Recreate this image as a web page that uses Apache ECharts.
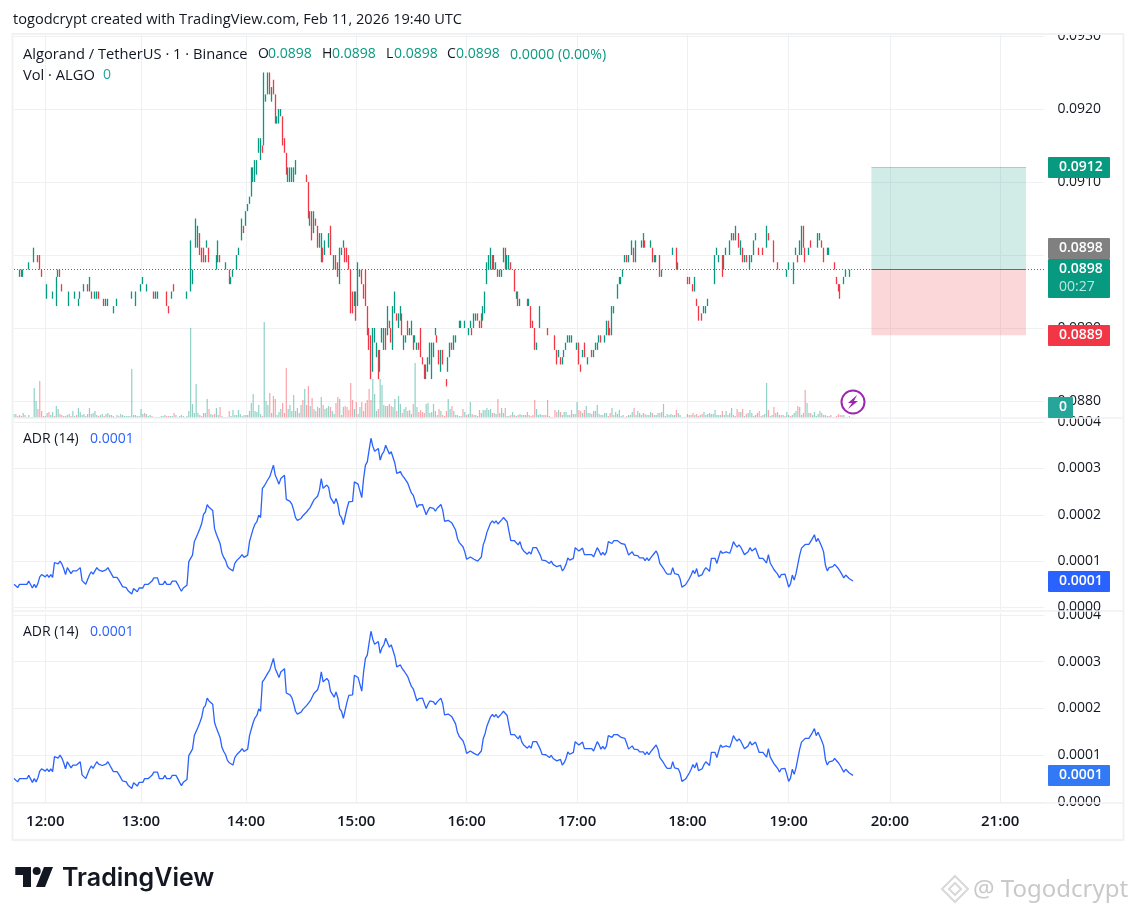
<!DOCTYPE html>
<html><head><meta charset="utf-8">
<style>html,body{margin:0;padding:0;background:#fff}#c{width:1137px;height:915px}</style>
<script src="https://cdn.jsdelivr.net/npm/echarts@6/dist/echarts.min.js"></script>
</head><body><div id="c"></div>
<script>
// prices in 1/10000 (898 = 0.0898)
const openTicks = [
899,898,898,897,898,897,897,898,898,898,
899,899,901,900,900,898,896,896,894,895,
895,894,894,893,897,898,896,895,895,894,
893,894,894,894,894,893,894,896,895,896,
896,895,895,895,894,894,895,894,894,894,
893,893,893,893,892,893,893,893,893,893,
893,894,894,894,894,894,893,895,895,895,
896,896,895,896,896,895,895,894,894,895,
895,895,895,895,893,893,894,896,895,894,
894,894,895,894,894,895,895,896,898,901,
901,903,901,901,899,901,901,899,899,898,
898,899,900,899,899,898,899,898,896,897,
898,898,900,901,902,904,904,906,907,908,
910,910,911,914,913,915,915,921,922,925,
921,924,922,918,918,919,919,916,914,910,
910,910,910,911,912,912,912,911,911,911,
910,904,906,903,905,904,901,899,901,900,
902,901,904,900,898,900,899,896,900,901,
901,901,900,898,895,893,895,893,897,898,
896,898,893,890,889,884,888,886,887,884,
888,887,890,889,891,890,887,892,892,890,
891,892,887,888,891,889,889,889,888,887,
888,890,886,885,883,884,885,883,886,889,
889,887,884,887,884,883,884,886,888,887,
888,890,890,890,890,890,890,889,890,890,
890,891,892,891,892,891,892,896,898,898,
900,898,898,898,897,897,899,901,898,898,
899,898,898,894,895,893,894,894,894,894,
893,893,891,890,887,889,890,893,892,891,
890,889,889,890,889,887,886,886,885,886,
887,888,888,888,888,888,887,888,885,886,
888,886,885,886,887,886,887,887,888,889,
889,888,889,891,890,889,892,894,894,896,
896,897,899,900,899,900,900,901,899,902,
902,901,901,902,901,901,901,901,899,899,
900,900,897,898,899,899,900,900,900,901,
901,898,899,898,897,897,897,897,896,896,
895,894,893,892,892,892,892,893,894,894,
895,896,900,899,900,900,898,900,901,900,
902,903,902,902,903,900,901,899,900,899,
898,899,900,902,902,901,901,901,901,901,
903,902,902,902,899,899,900,899,899,898,
897,898,897,897,896,900,900,900,900,904,
901,899,900,902,901,901,901,901,902,902,
901,899,900,900,900,899,899,897,896,896,
895,896,897,898,897,898,898];
const closeTicks = [
899,898,898,898,897,898,897,898,899,898,
899,901,901,899,898,897,896,896,896,895,
895,895,894,897,898,897,895,895,895,894,
895,894,894,895,894,894,895,896,896,896,
895,897,894,895,895,895,894,894,894,893,
894,894,893,893,893,893,894,893,893,893,
893,894,894,894,895,894,895,895,895,896,
897,896,896,896,896,895,894,895,895,895,
895,895,895,893,892,893,895,895,895,894,
894,894,895,894,895,895,902,898,898,905,
904,900,899,899,900,902,899,899,899,898,
900,902,899,899,899,899,899,896,897,898,
898,900,901,901,905,903,906,907,908,912,
912,913,913,916,916,914,925,922,925,922,
923,922,918,919,920,920,915,914,911,912,
912,912,912,913,912,912,912,911,911,910,
905,906,902,906,904,901,903,903,899,902,
902,903,900,900,900,898,897,901,901,902,
899,899,898,892,892,895,891,899,898,896,
894,893,889,887,883,890,890,888,883,887,
890,890,887,893,890,888,893,895,891,892,
893,889,889,889,889,890,891,887,889,888,
887,886,885,883,885,886,888,888,888,890,
888,885,887,885,884,882,886,888,887,889,
889,890,891,891,890,891,890,890,891,889,
892,892,891,890,890,893,895,899,900,901,
898,900,899,897,898,898,901,898,900,900,
898,898,895,895,893,894,894,894,894,893,
894,890,890,887,888,889,893,893,892,891,
889,889,889,890,887,885,887,885,886,887,
888,889,889,889,888,888,888,885,884,887,
886,886,886,886,886,887,888,888,889,888,
889,889,891,889,889,893,893,894,896,897,
897,898,900,899,900,900,902,899,902,902,
902,902,903,901,901,901,902,899,900,900,
900,897,898,898,899,899,900,900,901,901,
898,899,899,898,897,897,896,896,896,895,
897,893,891,892,891,893,893,894,894,894,
895,900,901,900,900,897,900,901,901,902,
903,902,904,902,901,902,899,900,899,899,
900,900,902,903,902,900,901,900,901,904,
902,902,902,899,899,898,900,899,899,898,
898,899,897,897,899,901,899,902,904,901,
899,899,901,901,901,901,901,903,903,901,
899,899,901,901,900,899,898,896,895,894,
895,897,898,898,898,898,898];
const volumes = [
4,4,2,3,2,5,3,1,3,1,
1,30,17,9,37,7,2,2,5,6,
3,6,2,12,9,4,3,2,2,3,
4,2,7,2,3,10,6,3,4,2,
4,10,4,5,7,3,2,3,4,2,
4,5,3,3,2,1,3,2,4,3,
2,2,2,2,49,3,3,2,2,9,
4,5,4,2,3,2,1,1,1,1,
2,2,3,2,2,2,2,5,3,1,
2,3,2,1,2,7,90,14,5,34,
5,3,2,5,5,19,9,4,3,4,
10,3,11,2,1,1,1,7,2,8,
3,3,8,4,2,3,3,3,7,15,
24,7,6,13,4,2,96,17,13,25,
5,22,19,3,6,9,15,5,50,9,
13,7,23,7,10,5,13,18,29,13,
32,12,20,9,7,11,10,21,13,9,
10,12,11,7,4,15,21,19,3,11,
12,11,8,35,18,9,16,4,11,16,
7,15,18,29,18,39,24,7,9,39,
33,13,12,12,14,12,11,19,7,22,
14,5,9,11,7,8,4,14,55,11,
6,8,6,5,14,15,5,6,14,7,
3,9,7,3,2,7,19,9,12,7,
3,3,2,2,9,6,3,4,16,4,
3,3,2,8,5,8,8,10,8,9,
5,5,4,19,5,10,5,10,2,2,
3,6,3,2,3,4,3,3,3,6,
3,2,3,18,9,3,4,3,3,3,
18,2,1,1,8,6,8,6,3,6,
6,3,3,8,4,4,16,8,7,5,
8,12,5,5,4,7,7,13,4,3,
3,5,5,2,5,10,3,6,4,8,
2,3,1,2,3,3,6,10,3,7,
5,3,5,4,3,3,6,5,3,3,
5,5,6,14,2,4,3,4,3,3,
8,5,3,1,1,1,4,3,3,5,
3,4,2,3,4,6,3,4,5,4,
4,8,3,3,3,7,3,7,3,5,
10,3,2,9,6,6,9,2,4,5,
8,5,2,3,5,7,2,3,4,35,
8,2,3,11,5,6,3,3,3,2,
6,3,2,3,5,7,12,11,3,5,
28,15,5,5,3,6,2,4,7,5,
3,3,2,2,3,1,1,2,4,3,
3,3,1,1,2,1,1];
// ADR values in millionths
const adrValues = [
50,48,43,50,50,50,50,50,57,57,
42,50,43,52,66,71,70,66,71,65,
71,65,97,100,94,100,94,84,71,86,
86,73,79,79,79,81,86,58,54,50,
52,70,77,72,79,86,81,79,78,78,
81,86,79,79,65,65,65,59,52,45,
43,43,36,36,29,41,42,34,42,42,
42,50,50,50,50,57,64,64,64,50,
50,50,57,50,50,50,57,57,57,50,
42,35,42,42,48,99,106,113,142,144,
160,170,181,201,206,222,216,214,209,170,
158,156,138,117,108,101,89,84,82,79,
95,101,102,109,114,108,108,113,142,156,
170,180,185,199,194,257,262,264,276,282,
285,307,285,276,266,278,280,285,233,235,
229,223,210,194,188,186,192,198,201,206,
210,216,224,232,235,240,253,278,257,257,
264,259,237,237,224,235,223,199,194,179,
179,214,228,229,229,271,268,266,266,237,
278,307,314,340,365,348,337,341,343,318,
330,336,350,352,331,336,336,311,289,285,
293,285,280,278,268,257,247,242,246,216,
221,222,222,222,200,209,216,216,214,208,
214,215,222,210,186,186,
188,188,182,185,167,149,140,137,131,120,
104,100,109,113,104,101,100,100,109,135,
146,162,166,182,187,182,187,180,180,189,
194,193,185,164,144,147,144,142,135,142,
128,122,120,115,120,115,129,129,129,129,
113,102,101,101,100,95,100,93,91,88,
86,91,79,84,93,107,102,100,106,129,
129,122,122,128,114,114,114,114,114,109,
119,129,122,113,119,113,120,142,142,138,
144,144,144,144,138,137,136,125,113,117,
120,113,109,112,107,107,107,101,107,101,
107,109,117,122,113,95,91,84,77,72,
71,72,86,73,77,71,62,44,48,49,
49,62,70,80,73,84,67,71,71,80,
86,82,78,106,108,106,95,109,122,117,
117,120,117,117,128,142,135,130,135,130,
131,114,114,120,129,122,122,128,117,106,
102,106,102,96,114,96,89,82,77,72,
64,71,72,72,59,44,51,70,59,73,
93,113,128,129,136,136,136,136,149,157,
142,149,140,131,120,91,79,86,86,88,
93,91,84,78,78,64,70,66,62,60,57];
const hourLabels = ['12:00','13:00','14:00','15:00','16:00','17:00','18:00','19:00','20:00','21:00'];
const barsPerHour = [52,57,60,60,60,60,55,55,60,25];
const barsBeforeFirstHour = 17;
const priceTicks = [0.0880,0.0890,0.0900,0.0910,0.0920,0.0930];
const adrTicks = [0,0.0001,0.0002,0.0003,0.0004];
const lastPrice = 0.0898, targetPrice = 0.0912, stopPrice = 0.0889;
const positionStartBar = 466, positionEndBar = 550;

const categories = [];
for (let i = 0; i < barsBeforeFirstHour; i++) categories.push('');
hourLabels.forEach((h, k) => { categories.push(h); for (let i = 1; i < barsPerHour[k]; i++) categories.push(''); });
const isHour = (i) => categories[i] !== '';
const UP = '#089981', DOWN = '#F23645';
const candleData = openTicks.map((o, i) => {
  const c = closeTicks[i];
  return [o / 10000, c / 10000, Math.min(o, c) / 10000, Math.max(o, c) / 10000];
});
const volColors = openTicks.map((o, i) => {
  const c = closeTicks[i];
  const up = c > o || (c === o && (i === 0 || closeTicks[i - 1] <= c));
  return up ? 'rgba(8,153,129,0.45)' : 'rgba(242,54,69,0.45)';
});
const volumeData = volumes.map((v, i) => ({ value: v, itemStyle: { color: volColors[i] } }));
const adrData = adrValues.map(v => v / 1e6);

const GRIDC = '#EFF0F2', TEXT = '#131722';
const FONT = 'Open Sans';
function xAxisFor(gridIndex, labels) {
  return { type: 'category', gridIndex, data: categories, boundaryGap: false,
    axisLine: { show: false }, axisTick: { show: false },
    splitLine: { show: true, interval: isHour, lineStyle: { color: GRIDC, width: 1 } },
    axisLabel: { show: labels, interval: isHour, margin: 11, color: TEXT, fontSize: 15, fontFamily: FONT, fontWeight: 600, hideOverlap: false } };
}
function yAxisFor(gridIndex, min, max, ticks, digits) {
  return { type: 'value', gridIndex, position: 'right', min, max, scale: true,
    axisLine: { show: false }, axisTick: { show: false, customValues: ticks },
    splitLine: { show: true, lineStyle: { color: GRIDC, width: 1 } },
    axisLabel: { customValues: ticks, margin: 13, padding: [2, 0, 0, 0], color: TEXT, fontSize: 14, fontFamily: FONT, formatter: v => v.toFixed(digits) } };
}
const T = (x, y, text, fill, fontSize, extra) => ({ type: 'text', z: 120, x, y, style: Object.assign({ text, fill, fontSize: fontSize || 14, fontFamily: FONT, textVerticalAlign: 'middle' }, extra || {}) });
const R = (x, y, w, h, fill, z) => ({ type: 'rect', z: z || 110, shape: { x, y, width: w, height: h, r: 1 }, style: { fill } });
const badge = (y, h, fill, text, w) => [R(1048, y, w || 62, h, fill), T(1059, y + 10.5, text, '#fff', 14, { fontWeight: 600 })];
const HL = (y) => ({ type: 'line', z: 105, shape: { x1: 13, y1: y, x2: 1123, y2: y }, style: { stroke: '#F0F1F3', lineWidth: 1.5 } });

const elements = [
  // frame and pane separators
  R(1047, 18, 76, 16, '#fff', 100),
  { type: 'rect', z: 105, shape: { x: 12.5, y: 34, width: 1111, height: 806 }, style: { fill: 'none', stroke: '#F0F1F3', lineWidth: 2 } },
  HL(418), HL(611), HL(803),
  // header and legends
  T(13, 19.5, 'togodcrypt created with TradingView.com, Feb 11, 2026 19:40 UTC', TEXT, 14.6),
  T(23, 54.5, 'Algorand / TetherUS · 1 · Binance', TEXT, 14.7),
  T(258, 54.5, 'O', TEXT), T(268, 54.5, '0.0898', UP),
  T(322, 54.5, 'H', TEXT), T(332, 54.5, '0.0898', UP),
  T(386, 54.5, 'L', TEXT), T(394, 54.5, '0.0898', UP),
  T(447, 54.5, 'C', TEXT), T(456, 54.5, '0.0898', UP),
  T(510, 54.5, '0.0000 (0.00%)', UP, 14.2),
  T(23, 75.5, 'Vol · ALGO', TEXT, 14.7), T(103, 75.5, '0', '#26A69A'),
  T(23, 439.5, 'ADR (14)', TEXT), T(90, 439.5, '0.0001', '#2962FF'),
  T(23, 632.5, 'ADR (14)', TEXT), T(90, 632.5, '0.0001', '#2962FF'),
  // price scale badges
  ...badge(157, 21, UP, '0.0912'),
  ...badge(238, 21, '#808080', '0.0898'),
  R(1048, 259, 62, 39, UP), T(1059, 269.5, '0.0898', '#fff', 14, { fontWeight: 600 }), T(1059, 287.5, '00:27', '#BFE6DF', 14),
  ...badge(325, 21, DOWN, '0.0889'),
  ...badge(397, 21, '#26A69A', '0', 25),
  ...badge(571, 21, '#2962FF', '0.0001'),
  ...badge(765, 21, '#3179F5', '0.0001'),
  // lightning marker
  { type: 'circle', z: 120, shape: { cx: 853, cy: 402, r: 11.5 }, style: { fill: '#fff', stroke: '#9C27B0', lineWidth: 2 } },
  { type: 'polygon', z: 121, shape: { points: [[857, 395], [848, 403], [852, 403], [848, 409], [858, 401], [854, 401]] }, style: { fill: '#9C27B0' } },
  // TradingView logo
  { type: 'polygon', z: 120, shape: { points: [[15.3, 867], [31, 867], [31, 887], [23, 887], [23, 875], [15.3, 875]] }, style: { fill: TEXT } },
  { type: 'circle', z: 120, shape: { cx: 36.7, cy: 871, r: 4 }, style: { fill: TEXT } },
  { type: 'polygon', z: 120, shape: { points: [[44, 867], [53, 867], [45, 887], [36, 887]] }, style: { fill: TEXT } },
  T(62, 878, 'TradingView', TEXT, 25, { fontFamily: 'Inter', fontWeight: 600 }),
  // watermark
  { type: 'polygon', z: 120, shape: { points: [[955, 876], [968, 889], [955, 902], [942, 889]] }, style: { fill: 'none', stroke: '#D8D8D8', lineWidth: 2 } },
  { type: 'polygon', z: 120, shape: { points: [[955, 883], [961, 889], [955, 895], [949, 889]] }, style: { fill: 'none', stroke: '#D8D8D8', lineWidth: 2 } },
  T(973, 890, '@ Togodcrypt', '#C9C9C9', 24, { fontFamily: 'Noto Sans' })
];

const option = {
  animation: false, backgroundColor: '#fff',
  grid: [
    { left: 14, right: 92.6, top: 34, height: 384 },
    { left: 14, right: 92.6, top: 419, height: 191 },
    { left: 14, right: 92.6, top: 613, height: 190 }
  ],
  xAxis: [xAxisFor(0, false), xAxisFor(1, false), xAxisFor(2, true)],
  yAxis: [
    yAxisFor(0, 0.087767, 0.093027, priceTicks, 4),
    { type: 'value', gridIndex: 0, min: 0, max: 384, show: false },
    yAxisFor(1, -0.0000054, 0.0004065, adrTicks, 4),
    yAxisFor(2, -0.00000214, 0.000404, adrTicks, 4)
  ],
  series: [
    { type: 'bar', xAxisIndex: 0, yAxisIndex: 1, data: volumeData, barWidth: 1.2, z: 2, silent: true },
    { type: 'candlestick', xAxisIndex: 0, yAxisIndex: 0, data: candleData, barWidth: 1, clip: false, z: 3,
      itemStyle: { color: UP, color0: DOWN, borderColor: UP, borderColor0: DOWN, borderColorDoji: UP, borderWidth: 1.3 },
      markLine: { silent: true, symbol: 'none', precision: 4, label: { show: false },
        lineStyle: { color: UP, type: [1, 2], width: 1 }, data: [
          { yAxis: lastPrice },
          [{ xAxis: positionStartBar, yAxis: lastPrice, lineStyle: { color: '#3E7F75', type: 'solid', width: 1 } }, { xAxis: positionEndBar, yAxis: lastPrice }],
          [{ xAxis: positionStartBar, yAxis: targetPrice, lineStyle: { color: 'rgba(8,153,129,0.35)', type: 'solid', width: 1 } }, { xAxis: positionEndBar, yAxis: targetPrice }]
        ] },
      markArea: { silent: true, data: [
        [{ xAxis: positionStartBar, yAxis: lastPrice, itemStyle: { color: 'rgba(8,153,129,0.19)' } }, { xAxis: positionEndBar, yAxis: targetPrice }],
        [{ xAxis: positionStartBar, yAxis: stopPrice, itemStyle: { color: 'rgba(242,54,69,0.2)' } }, { xAxis: positionEndBar, yAxis: lastPrice }]
      ] } },
    { type: 'line', xAxisIndex: 1, yAxisIndex: 2, data: adrData, symbol: 'none', lineStyle: { color: '#2962FF', width: 1.3 }, z: 3 },
    { type: 'line', xAxisIndex: 2, yAxisIndex: 3, data: adrData, symbol: 'none', lineStyle: { color: '#2962FF', width: 1.3 }, z: 3 }
  ],
  graphic: { elements }
};
echarts.init(document.getElementById('c'), null, { renderer: 'canvas' }).setOption(option);
</script></body></html>
